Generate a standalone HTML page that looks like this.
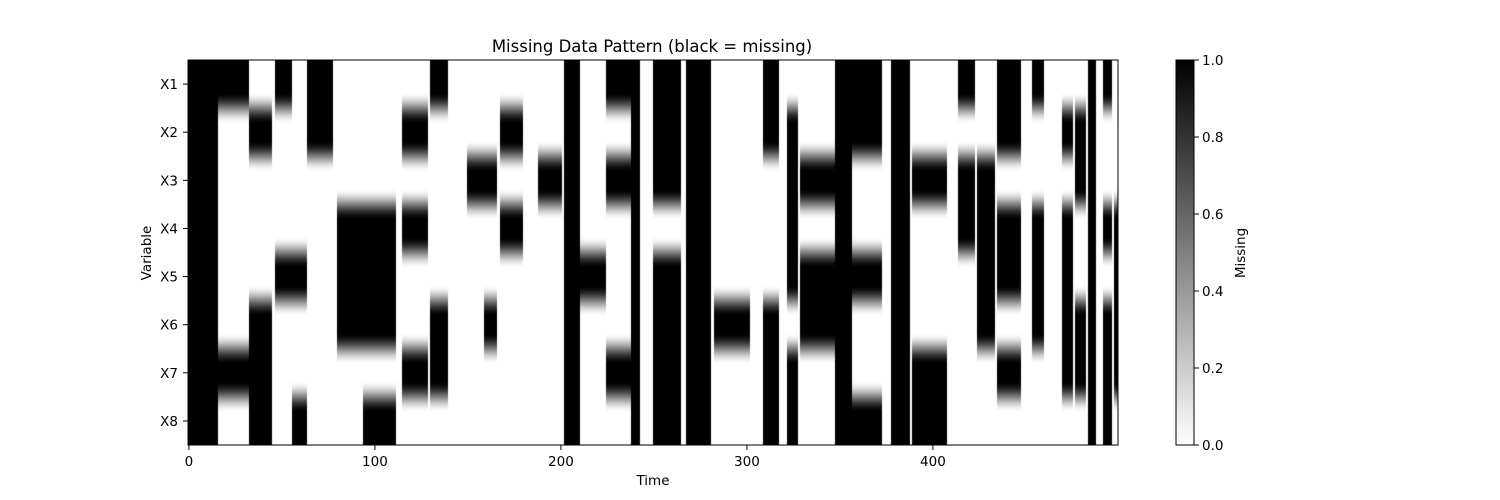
<!DOCTYPE html>
<html><head><meta charset="utf-8">
<style>
body{margin:0;background:#fff;width:1500px;height:500px;overflow:hidden;position:relative;font-family:"DejaVu Sans","Liberation Sans",sans-serif}
#hm{position:absolute;left:188px;top:60px;width:930px;height:385px}
svg{position:absolute;left:0;top:0}
text{font-family:"DejaVu Sans","Liberation Sans",sans-serif;fill:#000}
</style></head>
<body>
<canvas id="hm" width="930" height="385"></canvas>
<svg id="ov" width="1500" height="500">
<defs><linearGradient id="cg" x1="0" y1="0" x2="0" y2="1"><stop offset="0" stop-color="#000"/><stop offset="1" stop-color="#fff"/></linearGradient></defs>
<text x="652" y="52" font-size="16.5" text-anchor="middle">Missing Data Pattern (black = missing)</text>
<rect x="188" y="60" width="930" height="385" fill="none" stroke="#000" stroke-width="1"/>
<g id="xt"></g>
<g id="yt"></g>
<text x="653" y="485" font-size="13.5" text-anchor="middle">Time</text>
<text transform="translate(151,253) rotate(-90)" font-size="13.5" text-anchor="middle">Variable</text>
<rect x="1176" y="60" width="18" height="385" fill="url(#cg)" stroke="#000" stroke-width="1"/>
<g id="ct"></g>
<text transform="translate(1245,253) rotate(-90)" font-size="13.5" text-anchor="middle">Missing</text>
</svg>
<script>
const variables = ["X1","X2","X3","X4","X5","X6","X7","X8"];
const xTicks = [0,100,200,300,400];
const cbTicks = [0.0,0.2,0.4,0.6,0.8,1.0];
const nTime = 500;
const segStart = [0,16,33,47,56,64,80,94,115,130,150,159,168,188,202,211,225,238,250,268,283,309,322,329,348,357,378,389,414,424,435,454,470,477,484,492,498];
const segEnd   = [16,33,45,56,64,78,94,112,129,140,159,166,180,201,211,225,238,243,265,281,302,318,328,348,357,373,388,408,423,434,448,460,476,483,488,497,500];
const segRows  = ["12345678","17","2678","15","58","12","456","4568","247","167","3","36","24","3","12345678","5","137","12345678","1235678","12345678","6","12678","234578","356","12345678","1258","12345678","378","134","3456","12457","1456","24567","2367","12345678","14678","4567"];

const L=188,T=60,W=930,H=385;
const xAxis = t => L + (t+0.5)*W/nTime;
const yAxis = i => T + (i+0.5)*H/variables.length;

// build matrix
const M = variables.map(()=>new Array(nTime).fill(0));
segStart.forEach((s,k)=>{
  for(const ch of segRows[k]){const r=+ch-1;for(let t=s;t<segEnd[k]&&t<nTime;t++)M[r][t]=1;}
});
// render
const cv=document.getElementById('hm'),ctx=cv.getContext('2d');
const img=ctx.createImageData(W,H);
const nR=variables.length,rowH=H/nR;
for(let y=0;y<H;y++){
  let r=(y+0.5)/rowH-0.5;let i0,g;
  if(r<=0){i0=0;g=0;}else if(r>=nR-1){i0=nR-2;g=1;}
  else{i0=Math.floor(r);let f=r-i0;g=Math.min(1,Math.max(0,(f-0.17)/0.66));g=g*g*(3-2*g);}
  for(let x=0;x<W;x++){
    const t=Math.min(nTime-1,Math.floor((x+0.5)*nTime/W));
    const v=M[i0][t]*(1-g)+M[i0+1][t]*g;
    const c=Math.round(255*(1-v));const p=(y*W+x)*4;
    img.data[p]=c;img.data[p+1]=c;img.data[p+2]=c;img.data[p+3]=255;
  }
}
ctx.putImageData(img,0,0);

const NS="http://www.w3.org/2000/svg";
function mk(tag,attrs,parent,txt){const e=document.createElementNS(NS,tag);for(const k in attrs)e.setAttribute(k,attrs[k]);if(txt!==undefined)e.textContent=txt;parent.appendChild(e);return e;}
const xt=document.getElementById('xt');
xTicks.forEach(v=>{const x=xAxis(v);
  const l=mk('line',{x1:x,x2:x,y1:445,y2:450,stroke:'#000'},xt);
  
  
  const t=mk('text',{x:x,y:466,'font-size':13.5,'text-anchor':'middle'},xt,String(v));
  
  
});
const yt=document.getElementById('yt');
variables.forEach((v,i)=>{const y=yAxis(i);
  const l=mk('line',{x1:183,x2:188,y1:y,y2:y,stroke:'#000'},yt);
  
  
  const t=mk('text',{x:178,y:y+5,'font-size':13.5,'text-anchor':'end'},yt,v);
  
  
});
const ct=document.getElementById('ct');
cbTicks.forEach(v=>{const y=445-v*385;
  const l=mk('line',{x1:1194,x2:1199,y1:y,y2:y,stroke:'#000'},ct);
  
  
  const t=mk('text',{x:1202,y:y+5,'font-size':13.5},ct,v.toFixed(1));
  
  
});
</script>
</body></html>
